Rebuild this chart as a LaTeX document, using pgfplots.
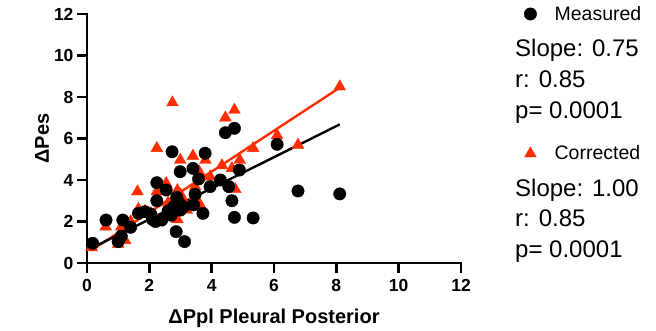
\documentclass[border=0pt]{standalone}
\usepackage{fontspec}
\setmainfont{Liberation Sans}
\usepackage{pgfplots}
\pgfplotsset{compat=1.18}
\definecolor{cred}{RGB}{255,45,0}
\begin{document}
\begin{tikzpicture}[x=1pt,y=1pt]
\path[use as bounding box] (0,0) rectangle (656,331);
\begin{axis}[
  at={(87pt,68pt)}, anchor=south west,
  scale only axis, width=374pt, height=249pt,
  xmin=0, xmax=12, ymin=0, ymax=12,
  xtick={0,2,...,12}, ytick={0,2,...,12},
  axis lines=left,
  axis line style={-, line width=2.6pt, line cap=rect},
  every tick/.style={line width=2.6pt, black},
  tick align=outside, major tick length=10pt,
  clip=false,
  /pgf/number format/assume math mode=true,
  tick label style={font=\fontsize{17.5}{20}\selectfont\bfseries},
  xticklabel style={yshift=-3pt},
  xlabel={ΔPpl Pleural Posterior},
  ylabel={ΔPes},
  label style={font=\fontsize{20}{22}\selectfont\bfseries},
  xlabel style={yshift=-10pt},
  ylabel style={yshift=-2pt},
  legend style={at={(1.0,1.0)}, anchor=north west, xshift=60pt, yshift=12pt,
    draw=none, fill=none, row sep=120pt,
    font=\fontsize{19.5}{21}\selectfont,
    /tikz/every odd column/.append style={column sep=16pt}},
  legend cell align=left,
]
% Corrected (red triangles)
\addplot[only marks, mark=triangle*, mark size=6.8pt, color=cred, forget plot] table {
x y
0.15 0.75
0.60 1.75
1.00 0.90
1.10 1.75
1.22 1.10
1.40 2.00
1.62 3.44
1.65 2.60
1.86 2.50
2.05 2.40
2.20 2.20
2.24 3.44
2.24 5.53
2.54 3.84
2.74 7.73
2.60 2.90
2.70 2.70
2.80 3.10
2.90 3.50
3.10 3.00
2.90 2.10
3.20 2.55
2.99 4.96
3.40 5.16
3.60 4.40
3.80 4.96
3.47 3.68
3.45 3.20
3.63 2.80
3.95 4.16
4.33 4.70
4.65 4.56
4.76 3.55
4.44 7.00
4.73 7.37
4.90 4.96
5.33 5.53
6.10 6.15
6.77 5.69
8.11 8.50
2.10 2.30
3.00 3.30
};
% Measured (black circles)
\addplot[only marks, mark=*, mark size=6.2pt, color=black, forget plot] table {
x y
0.18 0.95
0.61 2.07
1.00 1.03
1.10 1.30
1.15 2.07
1.40 1.72
1.65 2.39
1.86 2.47
2.05 2.35
2.20 2.00
2.40 2.07
2.24 3.00
2.24 3.87
2.54 3.52
2.73 5.36
2.60 2.50
2.70 2.30
2.78 2.71
2.88 3.16
3.10 2.71
2.86 1.51
3.13 1.03
2.99 4.40
3.40 4.56
3.58 4.05
3.79 5.29
3.47 3.31
3.42 2.80
3.72 2.39
3.95 3.68
4.28 4.00
4.55 3.68
4.65 3.00
4.73 2.20
5.33 2.17
4.44 6.28
4.73 6.49
4.89 4.48
6.10 5.72
6.77 3.47
8.11 3.33
2.10 2.10
2.95 2.90
3.00 2.55
};
% regression lines
\addplot[color=cred, line width=2.4pt, forget plot] coordinates {(0.15,0.62) (8.11,8.45)};
\addplot[color=black, line width=2.4pt, forget plot] coordinates {(0.18,0.74) (8.11,6.68)};
% legend entries
\addlegendimage{only marks, mark=*, mark size=6.2pt, color=black}
\addlegendentry{Measured}
\addlegendimage{only marks, mark=triangle*, mark size=6.8pt, color=cred}
\addlegendentry{Corrected}
\end{axis}
\begin{scope}[every node/.style={anchor=base west, inner sep=0pt, font=\fontsize{24}{26}\selectfont}]
\node at (515,274) {Slope: 0.75};
\node at (515,243) {r: 0.85};
\node at (515,212) {p= 0.0001};
\node at (515,134) {Slope: 1.00};
\node at (515,104) {r: 0.85};
\node at (515,73) {p= 0.0001};
\end{scope}
\end{tikzpicture}
\end{document}
